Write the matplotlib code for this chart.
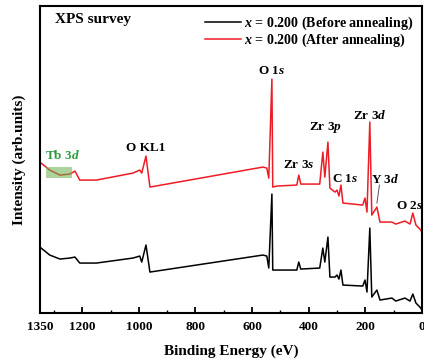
import matplotlib
matplotlib.use("Agg")
import matplotlib.pyplot as plt
from matplotlib.patches import Rectangle

plt.rcParams["font.family"] = ["Liberation Serif", "DejaVu Serif"]
plt.rcParams["font.weight"] = "bold"
plt.rcParams["mathtext.fontset"] = "custom"
plt.rcParams["mathtext.it"] = "Liberation Serif:italic:bold"
plt.rcParams["mathtext.rm"] = "Liberation Serif:bold"

# Survey spectra: binding energy (eV) and intensity (arb. units, stacked)
energy_after = [1350, 1315, 1279, 1244, 1226, 1209, 1150, 1021, 997, 990, 975, 961,
                562, 548, 541, 530, 527, 513, 442, 435, 428, 361, 350,
                343, 332, 325, 307, 300, 293, 286, 279, 209, 201, 194, 184, 177,
                159, 148, 106, 92, 60, 42, 32, 21, 7, 2]
intensity_after = [151, 143, 138, 139, 142, 133, 133, 140, 143, 140, 157, 126,
                   146, 145, 135, 234, 126, 127, 128, 138, 129, 129, 161,
                   136, 171, 125, 121, 123, 117, 128, 110, 108, 115, 101, 191, 98,
                   106, 91, 91, 89, 92, 89, 100, 88, 84, 82]

energy_before = [1350, 1315, 1279, 1244, 1226, 1209, 1150, 1021, 997, 990, 975, 961,
                 562, 548, 541, 530, 527, 442, 435, 428, 361, 350, 343,
                 332, 325, 307, 300, 293, 286, 279, 209, 201, 194, 184, 177, 159,
                 148, 106, 92, 60, 42, 32, 21, 7, 2]
intensity_before = [66, 58, 54, 55, 56, 50, 50, 55, 57, 51, 68, 41,
                    58, 57, 45, 119, 43, 43, 51, 44, 45, 65, 51,
                    76, 36, 36, 38, 34, 43, 28, 27, 33, 21, 85, 16, 23,
                    13, 15, 12, 15, 12, 19, 10, 6, 4]

series_labels = ["$x$ = 0.200 (Before annealing)", "$x$ = 0.200 (After annealing)"]
xticks = [1350, 1200, 1000, 800, 600, 400, 200, 0]
minor_xticks = [1300, 1100, 900, 700, 500, 300, 100]

# Peak assignments: (label, energy, intensity of label centre)
peak_labels = [
    ("O KL1", 975, 165),
    ("O 1$s$", 530, 242),
    ("Zr 3$s$", 435, 148),
    ("Zr 3$p$", 340, 186),
    ("C 1$s$", 271, 134),
    ("Zr 3$d$", 184, 198),
    ("Y 3$d$", 130, 134),
    ("O 2$s$", 45, 107),
]
tb_band = (1237, 1329, 135, 146)  # Tb 3d region: E_low, E_high, I_low, I_high

fig = plt.figure(figsize=(4.24, 3.59), dpi=100)
ax = fig.add_axes([0.094, 0.128, 0.901, 0.855])

ax.plot(energy_before, intensity_before, color="black", lw=1.1, label=series_labels[0])
ax.plot(energy_after, intensity_after, color="#ee1c25", lw=1.1, label=series_labels[1])

ax.set_xlim(1350, 0)
ax.set_ylim(0, 307)
ax.set_xticks(xticks)
ax.set_xticks(minor_xticks, minor=True)
ax.set_yticks([])
ax.tick_params(axis="x", which="major", direction="in", length=4, width=1.3,
               labelsize=9.5, pad=6)
ax.tick_params(axis="x", which="minor", direction="in", length=2, width=1.0)
for lab in ax.get_xticklabels():
    lab.set_fontweight("bold")
for s in ax.spines.values():
    s.set_linewidth(1.5)

ax.set_xlabel("Binding Energy (eV)", fontsize=11, fontweight="bold", labelpad=8)
ax.set_ylabel("Intensity (arb.units)", fontsize=11, fontweight="bold", labelpad=10)

ax.text(0.04, 0.955, "XPS survey", transform=ax.transAxes, fontsize=11,
        fontweight="bold", va="center", ha="left")

leg = ax.legend(loc="upper right", frameon=False, handlelength=2.6,
                handletextpad=0.2, borderaxespad=0.2, labelspacing=0.0,
                prop={"weight": "bold", "size": 10.1})

for text, e, i in peak_labels:
    ax.text(e, i, text, fontsize=9.5, fontweight="bold", ha="center", va="center")

# Y 3d pointer
ax.plot([150, 159], [128, 110], color="#555555", lw=0.7)

# Tb 3d band
e_lo, e_hi, i_lo, i_hi = tb_band
ax.add_patch(Rectangle((e_lo, i_lo), e_hi - e_lo, i_hi - i_lo,
                       facecolor="#6ab04c", alpha=0.55, edgecolor="none", zorder=3))
ax.text(1269, 158, "Tb 3$d$", fontsize=9.5, fontweight="bold", color="#2e9a3e",
        ha="center", va="center")

fig.savefig("out.png", dpi=100)
